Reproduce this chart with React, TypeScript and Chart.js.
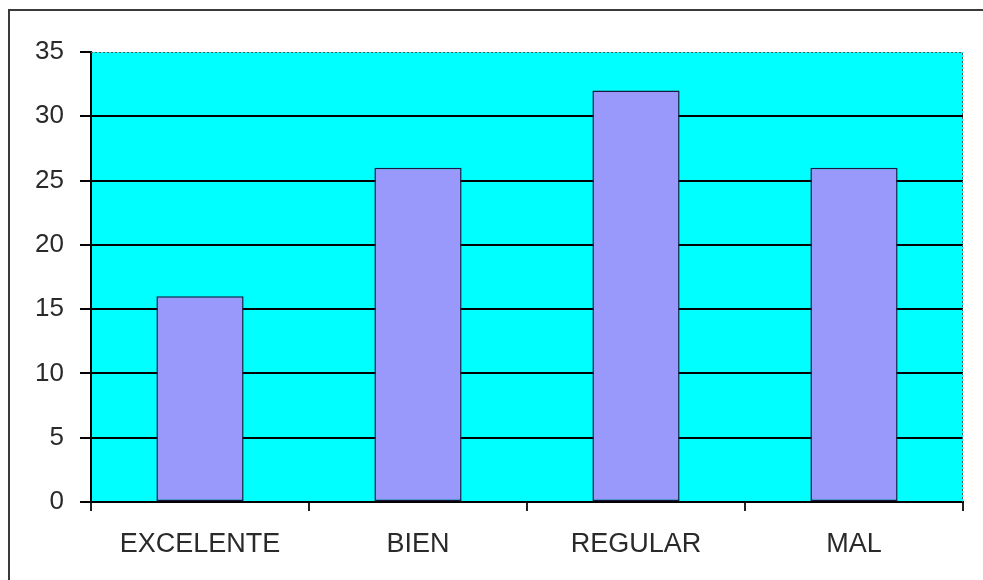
import React, { useEffect, useRef } from "react";
import { Chart, registerables } from "chart.js";

Chart.register(...registerables);

const categories: string[] = ["EXCELENTE", "BIEN", "REGULAR", "MAL"];
const values: number[] = [16, 26, 32, 26];
const yTickMin = 0;
const yTickMax = 35;
const yTickStep = 5;

const backgroundPlugin = {
  id: "bgAndFrame",
  beforeDraw(chart: any) {
    const { ctx, chartArea } = chart;
    ctx.save();
    ctx.fillStyle = "#ffffff";
    ctx.fillRect(0, 0, chart.width, chart.height);
    ctx.fillStyle = "#00ffff";
    ctx.fillRect(chartArea.left, chartArea.top, chartArea.right - chartArea.left, chartArea.bottom - chartArea.top);
    ctx.restore();
  },
  afterDraw(chart: any) {
    const { ctx, chartArea } = chart;
    ctx.save();
    ctx.strokeStyle = "#3a3a3a";
    ctx.lineWidth = 2;
    ctx.beginPath();
    ctx.moveTo(9, chart.height + 10);
    ctx.lineTo(9, 10);
    ctx.lineTo(chart.width + 10, 10);
    ctx.stroke();
    ctx.strokeStyle = "#555555";
    ctx.lineWidth = 1;
    ctx.setLineDash([2, 2]);
    ctx.beginPath();
    ctx.moveTo(chartArea.left, chartArea.top + 0.5);
    ctx.lineTo(chartArea.right - 0.5, chartArea.top + 0.5);
    ctx.lineTo(chartArea.right - 0.5, chartArea.bottom);
    ctx.stroke();
    ctx.restore();
  },
};

export default function App() {
  const ref = useRef<HTMLCanvasElement | null>(null);
  useEffect(() => {
    if (!ref.current) return;
    const chart = new Chart(ref.current, {
      type: "bar",
      data: {
        labels: categories,
        datasets: [
          {
            data: values,
            backgroundColor: "#9999fb",
            borderColor: "#1a1a40",
            borderWidth: 1.5,
            borderSkipped: false,
            barPercentage: 0.4,
            categoryPercentage: 1,
          },
        ],
      },
      options: {
        animation: false,
        responsive: false,
        devicePixelRatio: 1,
        layout: { padding: { top: 52, right: 20, left: 0, bottom: 0 } },
        plugins: { legend: { display: false }, tooltip: { enabled: false } },
        scales: {
          x: {
            grid: {
              display: true,
              drawOnChartArea: false,
              drawTicks: true,
              tickLength: 9,
              lineWidth: 2,
              color: "#000000",
              tickColor: "#222222",
              offset: true,
            },
            border: { display: true, color: "#000000", width: 2 },
            ticks: {
              color: "#2a2a2a",
              padding: 17,
              font: { family: "'Liberation Sans', Arial, sans-serif", size: 27 },
              maxRotation: 0,
              autoSkip: false,
            },
            afterFit(scale: any) {
              scale.height = 78;
            },
          },
          y: {
            min: yTickMin,
            max: yTickMax,
            grid: {
              color: (c: any) => (c.tick && c.tick.value === yTickMax ? "rgba(0,0,0,0)" : "#000000"),
              tickColor: "#000000",
              tickLength: 11,
              lineWidth: 2,
            },
            border: { display: true, color: "#000000", width: 2 },
            ticks: {
              stepSize: yTickStep,
              color: "#2a2a2a",
              padding: 16,
              font: { family: "'Liberation Sans', Arial, sans-serif", size: 26 },
            },
            afterFit(scale: any) {
              scale.width = 91;
            },
          },
        },
      },
      plugins: [backgroundPlugin],
    });
    return () => chart.destroy();
  }, []);
  return (
    <div style={{ position: "absolute", left: 0, top: 0, width: 983, height: 580 }}>
      <canvas ref={ref} width={983} height={580} style={{ width: 983, height: 580 }} />
    </div>
  );
}
